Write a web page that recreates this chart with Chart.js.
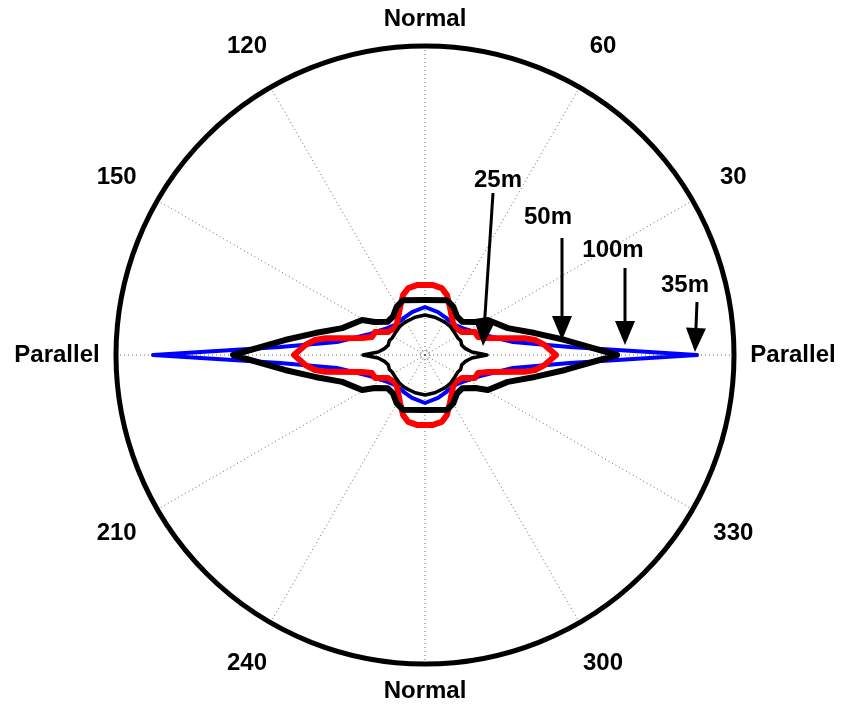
<!DOCTYPE html>
<html>
<head>
<meta charset="utf-8">
<script src="https://cdn.jsdelivr.net/npm/chart.js@4/dist/chart.umd.min.js"></script>
<style>
  html, body { margin: 0; padding: 0; background: #fff; }
  canvas { display: block; }
</style>
</head>
<body>
<canvas id="polarChart" width="844" height="710"></canvas>
<script>
// one quadrant of each pattern (angle in degrees, radius in plot units, outer ring = 310)
// the patterns are symmetric about both axes, so the other quadrants are mirrored
const angles25m = [0, 3.7, 9, 15.1, 22, 27.3, 36.3, 48, 58.8, 75.3, 90];
const radius25m = [62, 47, 41, 38, 38.5, 37, 37, 38, 38.5, 39, 40];

const angles35m = [0, 3.2, 8.4, 20.9, 33, 47.9, 62.2, 73.2, 90];
const radius35m = [272, 145, 89, 59, 47.7, 41.8, 42.9, 44.9, 48];

const angles50m = [0, 4.8, 7.8, 9.6, 15.1, 18.8, 24.7, 31.9, 42, 48.8, 62.5, 70, 76, 84, 90];
const radius50m = [131, 120, 111, 101, 65, 56, 55, 43.6, 40.4, 42.5, 54, 64, 69, 70.5, 70];

const angles100m = [0, 6.1, 11.3, 18, 29.1, 33.4, 41.7, 49.9, 59.7, 68.2, 90];
const radius100m = [192, 141, 112, 87, 72, 60, 50, 50, 56, 59, 55];

const spokeAngles = [0, 30, 60, 90, 120, 150, 180, 210, 240, 270, 300, 330];
const spokeLabels = ['Parallel', '30', '60', 'Normal', '120', '150', 'Parallel', '210', '240', 'Normal', '300', '330'];

const rMax = 310;

// callout arrows, in plot units
const callouts = [
    { text: '25m',  label: [73, 175],  from: [68, 162],  to: [58, 9] },
    { text: '50m',  label: [123, 138], from: [137, 117], to: [137, 15] },
    { text: '100m', label: [188, 105], from: [200, 87],  to: [200, 10] },
    { text: '35m',  label: [260, 70],  from: [272, 53],  to: [270, 3] }
];

const rad = d => d * Math.PI / 180;

function fullLoop(angles, radii) {
    const pts = [];
    const add = (a, r) => pts.push({ x: r * Math.cos(rad(a)), y: r * Math.sin(rad(a)) });
    for (let i = 0; i < angles.length; i++) add(angles[i], radii[i]);
    for (let i = angles.length - 1; i >= 0; i--) add(180 - angles[i], radii[i]);
    for (let i = 0; i < angles.length; i++) add(180 + angles[i], radii[i]);
    for (let i = angles.length - 1; i >= 0; i--) add(360 - angles[i], radii[i]);
    return pts;
}

const polarFrame = {
    id: 'polarFrame',
    beforeDatasetsDraw(chart) {
        const { ctx, scales: { x, y } } = chart;
        const cx = x.getPixelForValue(0), cy = y.getPixelForValue(0);
        const R = x.getPixelForValue(rMax) - cx;
        ctx.save();
        ctx.strokeStyle = '#666';
        ctx.lineWidth = 1;
        ctx.setLineDash([1, 3]);
        spokeAngles.forEach(a => {
            ctx.beginPath();
            ctx.moveTo(cx, cy);
            ctx.lineTo(cx + R * Math.cos(rad(a)), cy - R * Math.sin(rad(a)));
            ctx.stroke();
        });
        ctx.beginPath();
        ctx.arc(cx, cy, x.getPixelForValue(5) - cx, 0, Math.PI * 2);
        ctx.stroke();
        ctx.restore();
    },
    afterDatasetsDraw(chart) {
        const { ctx, scales: { x, y } } = chart;
        const cx = x.getPixelForValue(0), cy = y.getPixelForValue(0);
        const R = x.getPixelForValue(rMax - 1) - cx;
        ctx.save();
        ctx.strokeStyle = '#000';
        ctx.lineWidth = 5;
        ctx.beginPath();
        ctx.arc(cx, cy, R, 0, Math.PI * 2);
        ctx.stroke();

        ctx.fillStyle = '#000';
        ctx.font = 'bold 24px "Liberation Sans", Arial, sans-serif';
        ctx.textAlign = 'center';
        ctx.textBaseline = 'middle';
        spokeAngles.forEach((a, i) => {
            const txt = spokeLabels[i];
            const r = txt === 'Normal' ? 336 : txt === 'Parallel' ? 368 : 356;
            ctx.fillText(txt, x.getPixelForValue(r * Math.cos(rad(a))), y.getPixelForValue(r * Math.sin(rad(a))));
        });

        callouts.forEach(c => {
            ctx.fillText(c.text, x.getPixelForValue(c.label[0]), y.getPixelForValue(c.label[1]));
            const x0 = x.getPixelForValue(c.from[0]), y0 = y.getPixelForValue(c.from[1]);
            const x1 = x.getPixelForValue(c.to[0]), y1 = y.getPixelForValue(c.to[1]);
            const ang = Math.atan2(y1 - y0, x1 - x0);
            const len = 24, half = 10;
            const bx = x1 - len * Math.cos(ang), by = y1 - len * Math.sin(ang);
            ctx.lineWidth = 3;
            ctx.beginPath();
            ctx.moveTo(x0, y0);
            ctx.lineTo(bx, by);
            ctx.stroke();
            ctx.beginPath();
            ctx.moveTo(x1, y1);
            ctx.lineTo(bx + half * Math.sin(ang), by - half * Math.cos(ang));
            ctx.lineTo(bx - half * Math.sin(ang), by + half * Math.cos(ang));
            ctx.closePath();
            ctx.fill();
        });
        ctx.restore();
    }
};

const line = (label, pts, color, width, order) => ({
    label,
    data: pts,
    showLine: true,
    borderColor: color,
    borderWidth: width,
    pointRadius: 0,
    borderJoinStyle: 'round',
    borderCapStyle: 'round',
    fill: false,
    order
});

new Chart(document.getElementById('polarChart'), {
    type: 'scatter',
    data: {
        datasets: [
            line('25m', fullLoop(angles25m, radius25m), '#000000', 3.5, 1),
            line('100m', fullLoop(angles100m, radius100m), '#000000', 6, 2),
            line('50m', fullLoop(angles50m, radius50m), '#ff0000', 6, 3),
            line('35m', fullLoop(angles35m, radius35m), '#0000ff', 4, 4)
        ]
    },
    options: {
        responsive: false,
        animation: false,
        devicePixelRatio: 1,
        events: [],
        layout: { padding: { left: 115, right: 109, top: 45, bottom: 45 } },
        scales: {
            x: { type: 'linear', min: -rMax, max: rMax, display: false },
            y: { type: 'linear', min: -rMax, max: rMax, display: false }
        },
        plugins: {
            legend: { display: false },
            tooltip: { enabled: false }
        }
    },
    plugins: [polarFrame]
});
</script>
</body>
</html>
